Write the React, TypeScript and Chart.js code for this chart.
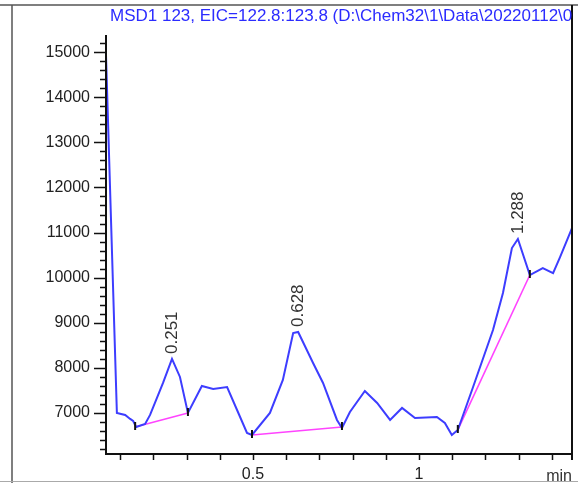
import React, { useEffect, useRef } from "react";
import { Chart, registerables } from "chart.js";
Chart.register(...registerables);

const TITLE = "MSD1 123, EIC=122.8:123.8 (D:\\Chem32\\1\\Data\\20220112\\0";
const X_UNIT = "min";

const TIME = [
  0.057, 0.090, 0.115, 0.130, 0.139, 0.148, 0.175, 0.190, 0.229, 0.256,
  0.280, 0.304, 0.346, 0.380, 0.422, 0.452, 0.482, 0.497, 0.551, 0.590,
  0.621, 0.636, 0.681, 0.711, 0.753, 0.768, 0.792, 0.837, 0.874, 0.913,
  0.949, 0.988, 1.054, 1.078, 1.099, 1.117, 1.163, 1.223, 1.253, 1.280,
  1.298, 1.334, 1.373, 1.404, 1.425, 1.461,
];
const ABUNDANCE = [
  14980, 7000, 6956, 6867, 6823, 6690, 6756, 6956, 7665, 8197,
  7798, 7000, 7598, 7532, 7576, 7066, 6557, 6512, 7000, 7731,
  8773, 8795, 8108, 7665, 6845, 6668, 7022, 7488, 7222, 6845,
  7111, 6889, 6911, 6778, 6512, 6623, 7576, 8839, 9659, 10656,
  10856, 10058, 10213, 10102, 10457, 11100,
];

const PEAK_RT = [0.251, 0.628, 1.288];
const PEAK_LABELS = ["0.251", "0.628", "1.288"];

const BASE_START_T = [0.145, 0.497, 1.117];
const BASE_START_V = [6690, 6512, 6623];
const BASE_END_T = [0.304, 0.768, 1.334];
const BASE_END_V = [7000, 6690, 10058];

const Y_TICKS = [7000, 8000, 9000, 10000, 11000, 12000, 13000, 14000, 15000];
const Y_MINOR_STEP = 200;
const X_TICKS = [0.5, 1];
const X_TICK_LABELS = ["0.5", "1"];
const X_MINOR_STEP = 0.1;

const X_MIN = 0.0572;
const X_MAX = 1.461;
const Y_MIN = 6090;
const Y_MAX = 15380;

const FONT = '"Liberation Sans", Arial, sans-serif';

export default function App() {
  const ref = useRef<HTMLCanvasElement | null>(null);

  useEffect(() => {
    document.body.style.margin = "0";
    const canvas = ref.current;
    if (!canvas) return;

    const mainData = TIME.map((t, i) => ({ x: t, y: ABUNDANCE[i] }));
    const baseSets = BASE_START_T.map((t, i) => ({
      data: [
        { x: t, y: BASE_START_V[i] },
        { x: BASE_END_T[i], y: BASE_END_V[i] },
      ],
      borderColor: "#ff44ff",
      borderWidth: 1.6,
      pointRadius: 0,
      tension: 0,
    }));

    const decor = {
      id: "decor",
      afterDraw(chart: any) {
        const ctx = chart.ctx as CanvasRenderingContext2D;
        const xs = chart.scales.x;
        const ys = chart.scales.y;
        const a = chart.chartArea;
        ctx.save();

        // outer frame
        ctx.strokeStyle = "#555";
        ctx.lineWidth = 1.5;
        ctx.beginPath();
        ctx.moveTo(0, 5);
        ctx.lineTo(578, 5);
        ctx.moveTo(12, 5);
        ctx.lineTo(12, 483);
        ctx.stroke();
        ctx.strokeStyle = "#aaa";
        ctx.lineWidth = 1;
        ctx.beginPath();
        ctx.moveTo(0, 481.5);
        ctx.lineTo(578, 481.5);
        ctx.stroke();

        // axes
        ctx.strokeStyle = "#111";
        ctx.lineWidth = 2;
        ctx.beginPath();
        ctx.moveTo(a.left, a.top);
        ctx.lineTo(a.left, a.bottom);
        ctx.lineTo(a.right, a.bottom);
        ctx.moveTo(a.right, 5);
        ctx.lineTo(a.right, a.bottom + 6);
        ctx.stroke();

        // y ticks
        ctx.lineWidth = 1.5;
        ctx.beginPath();
        for (let v = Math.ceil(Y_MIN / Y_MINOR_STEP) * Y_MINOR_STEP; v <= Y_MAX; v += Y_MINOR_STEP) {
          const py = Math.round(ys.getPixelForValue(v)) + 0.5;
          const major = Y_TICKS.includes(v);
          ctx.moveTo(a.left, py);
          ctx.lineTo(a.left - (major ? 12 : 6), py);
        }
        // x ticks
        for (let k = 1; k * X_MINOR_STEP <= X_MAX; k++) {
          const v = k * X_MINOR_STEP;
          if (v < X_MIN) continue;
          const px = Math.round(xs.getPixelForValue(v)) + 0.5;
          ctx.moveTo(px, a.bottom);
          ctx.lineTo(px, a.bottom + 6);
        }
        ctx.stroke();

        // baseline markers
        ctx.strokeStyle = "#111";
        ctx.lineWidth = 2;
        ctx.beginPath();
        const markers: [number, number][] = [];
        BASE_START_T.forEach((t, i) => {
          markers.push([t, BASE_START_V[i]]);
          markers.push([BASE_END_T[i], BASE_END_V[i]]);
        });
        markers.forEach(([t, v]) => {
          const px = xs.getPixelForValue(t);
          const py = ys.getPixelForValue(v);
          ctx.moveTo(px, py - 5);
          ctx.lineTo(px, py + 3);
        });
        ctx.stroke();

        // peak labels
        ctx.fillStyle = "#333";
        ctx.font = `17px ${FONT}`;
        ctx.textAlign = "left";
        ctx.textBaseline = "middle";
        PEAK_RT.forEach((rt, i) => {
          let best = -1;
          TIME.forEach((t, j) => {
            if (Math.abs(t - rt) < 0.03 && (best < 0 || ABUNDANCE[j] > ABUNDANCE[best])) best = j;
          });
          const px = xs.getPixelForValue(TIME[best]);
          const py = ys.getPixelForValue(ABUNDANCE[best]);
          ctx.save();
          ctx.translate(px, py - 5);
          ctx.rotate(-Math.PI / 2);
          ctx.fillText(PEAK_LABELS[i], 0, 0);
          ctx.restore();
        });

        // title
        ctx.fillStyle = "#2b2bff";
        ctx.font = `17px ${FONT}`;
        ctx.textAlign = "left";
        ctx.textBaseline = "alphabetic";
        ctx.fillText(TITLE, 110, 21);

        // unit
        ctx.fillStyle = "#333";
        ctx.font = `16px ${FONT}`;
        ctx.textAlign = "right";
        ctx.fillText(X_UNIT, a.right, 481);

        ctx.restore();
      },
    };

    const chart = new Chart(canvas, {
      type: "line",
      data: {
        datasets: [
          {
            data: mainData,
            borderColor: "#3d3dff",
            borderWidth: 2,
            pointRadius: 0,
            tension: 0,
          },
          ...baseSets,
        ],
      },
      options: {
        animation: false,
        responsive: false,
        maintainAspectRatio: false,
        layout: { padding: { top: 35, right: 6, left: 0, bottom: 0 } },
        plugins: { legend: { display: false }, tooltip: { enabled: false }, title: { display: false } },
        scales: {
          x: {
            type: "linear",
            min: X_MIN,
            max: X_MAX,
            grid: { display: false, drawTicks: false },
            border: { display: false },
            afterBuildTicks: (s: any) => {
              s.ticks = X_TICKS.map((v) => ({ value: v }));
            },
            afterFit: (s: any) => {
              s.height = 29;
            },
            ticks: {
              padding: 11,
              color: "#222",
              font: { size: 16, family: FONT },
              maxRotation: 0,
              autoSkip: false,
              callback: (v: any) => {
                const i = X_TICKS.indexOf(Number(v));
                return i >= 0 ? X_TICK_LABELS[i] : "";
              },
            },
          },
          y: {
            type: "linear",
            min: Y_MIN,
            max: Y_MAX,
            grid: { display: false, drawTicks: false },
            border: { display: false },
            afterBuildTicks: (s: any) => {
              s.ticks = Y_TICKS.map((v) => ({ value: v }));
            },
            afterFit: (s: any) => {
              s.width = 106;
            },
            ticks: {
              padding: 16,
              color: "#222",
              font: { size: 16, family: FONT },
              autoSkip: false,
              callback: (v: any) => String(v),
            },
          },
        },
      },
      plugins: [decor],
    });

    return () => chart.destroy();
  }, []);

  return <canvas ref={ref} width={578} height={483} style={{ display: "block" }} />;
}
